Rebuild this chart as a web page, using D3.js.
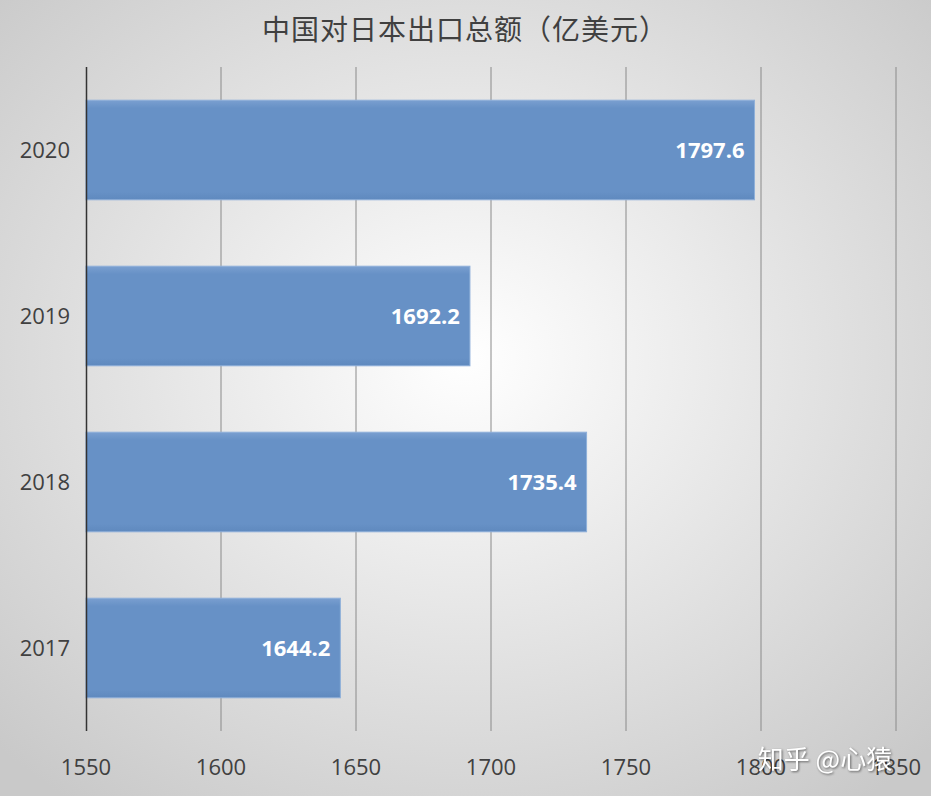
<!DOCTYPE html>
<html><head><meta charset="utf-8">
<script src="https://cdn.jsdelivr.net/npm/d3@7/dist/d3.min.js"></script>
<style>body{margin:0}svg{display:block}</style></head>
<body><svg id="c" width="931" height="796"></svg>
<script>
const years=["2020","2019","2018","2017"];
const values=[1797.6,1692.2,1735.4,1644.2];
const ticks=[1550,1600,1650,1700,1750,1800,1850];
const title="中国对日本出口总额（亿美元）";
const svg=d3.select("#c");
const defs=svg.append("defs");
const rg=defs.append("radialGradient").attr("id","bg").attr("cx","50%").attr("cy","45%").attr("r","70%");
rg.append("stop").attr("offset","0%").attr("stop-color","#ffffff");
rg.append("stop").attr("offset","100%").attr("stop-color","#c9c9c9");
const bgr=defs.append("linearGradient").attr("id","bar").attr("x1","0").attr("y1","0").attr("x2","0").attr("y2","1");
bgr.append("stop").attr("offset","0%").attr("stop-color","#7a9fd0");
bgr.append("stop").attr("offset","8%").attr("stop-color","#6791c6");
bgr.append("stop").attr("offset","92%").attr("stop-color","#6791c6");
bgr.append("stop").attr("offset","100%").attr("stop-color","#5f89be");
svg.append("rect").attr("width",931).attr("height",796).attr("fill","url(#bg)");
const font="'Noto Sans CJK SC','Open Sans',sans-serif";
const x=d3.scaleLinear().domain([1550,1850]).range([86,896]);
const y=d3.scaleBand().domain(years).range([67,731]).paddingInner(0.4).paddingOuter(0.2);
svg.append("g").selectAll("line").data(ticks.slice(1)).join("line")
 .attr("x1",d=>x(d)).attr("x2",d=>x(d)).attr("y1",67).attr("y2",731)
 .attr("stroke","#8a8a8a").attr("stroke-width",1);
svg.append("g").selectAll("rect").data(years).join("rect")
 .attr("x",x(1550)).attr("y",d=>y(d)).attr("height",y.bandwidth())
 .attr("width",(d,i)=>x(values[i])-x(1550)).attr("fill","url(#bar)")
 .attr("stroke","#8fb0da").attr("stroke-width",1);
svg.append("line").attr("x1",86.5).attr("x2",86.5).attr("y1",67).attr("y2",731).attr("stroke","#333").attr("stroke-width",1.5);
svg.append("g").selectAll("text").data(years).join("text")
 .attr("x",(d,i)=>x(values[i])-10).attr("y",d=>y(d)+y.bandwidth()/2).attr("dy","0.35em")
 .attr("text-anchor","end").attr("fill","#fff").attr("font-weight","bold").attr("font-size",22)
 .attr("font-family","'Open Sans',sans-serif").text((d,i)=>values[i].toFixed(1));
svg.append("g").selectAll("text").data(years).join("text")
 .attr("x",70).attr("y",d=>y(d)+y.bandwidth()/2).attr("dy","0.35em").attr("text-anchor","end")
 .attr("fill","#404040").attr("font-size",22).attr("font-family","'Open Sans',sans-serif").text(d=>d);
svg.append("g").selectAll("text").data(ticks).join("text")
 .attr("x",d=>x(d)).attr("y",767).attr("dy","0.35em").attr("text-anchor","middle")
 .attr("fill","#404040").attr("font-size",22).attr("font-family","'Open Sans',sans-serif").text(d=>d);
svg.append("text").attr("x",465).attr("y",30).attr("dy","0.35em").attr("text-anchor","middle")
 .attr("fill","#404040").attr("font-size",28).attr("font-family",font).attr("letter-spacing",1).text(title);
svg.append("text").attr("x",825).attr("y",760).attr("dy","0.35em").attr("text-anchor","middle")
 .attr("fill","#fff").attr("font-size",26).attr("font-family",font)
 .style("filter","drop-shadow(1px 1px 1px rgba(0,0,0,0.5))").text("知乎 @心猿");
</script></body></html>
